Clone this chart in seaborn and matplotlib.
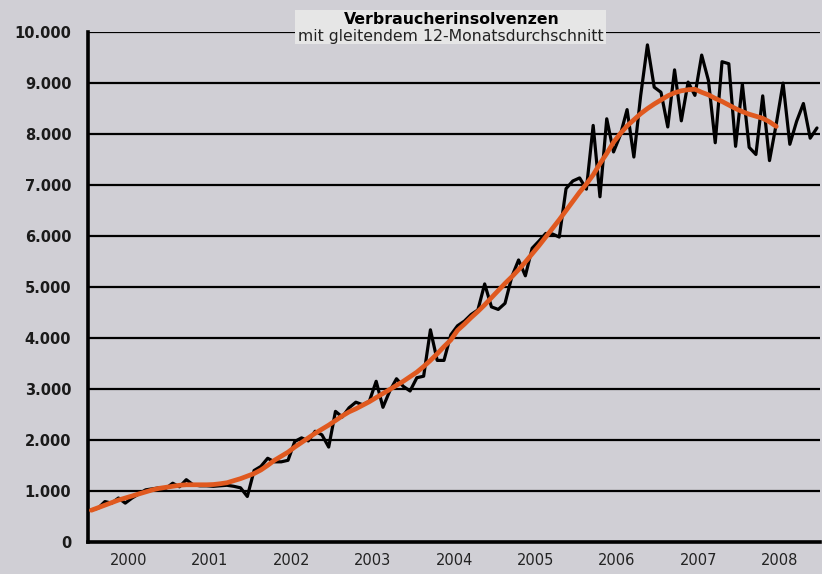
#Importing libraries
import numpy as np
import pandas as pd
import matplotlib
matplotlib.use("Agg")
import matplotlib.pyplot as plt
import matplotlib.patches as mpatches
import seaborn as sns

#Monthly consumer insolvencies, Jan 2000 - Dec 2008
years = ["2000", "2001", "2002", "2003", "2004", "2005", "2006", "2007", "2008"]
insolvencies = [
    627, 660, 790, 760, 860, 760, 860, 940, 1020, 1040, 1060, 1050,        # 2000
    1150, 1080, 1220, 1120, 1100, 1100, 1090, 1100, 1110, 1090, 1060, 890,  # 2001
    1400, 1480, 1640, 1570, 1570, 1600, 1970, 2040, 1980, 2170, 2100, 1860, # 2002
    2560, 2450, 2630, 2740, 2690, 2760, 3150, 2640, 2960, 3200, 3050, 2960, # 2003
    3220, 3250, 4160, 3560, 3560, 4060, 4240, 4330, 4460, 4550, 5060, 4610, # 2004
    4560, 4680, 5200, 5530, 5220, 5760, 5900, 6050, 6040, 5980, 6930, 7080, # 2005
    7140, 6920, 8170, 6770, 8300, 7650, 7980, 8480, 7550, 8750, 9750, 8920, # 2006
    8820, 8140, 9260, 8260, 9020, 8760, 9550, 9050, 7830, 9420, 9380, 7760, # 2007
    8980, 7740, 7600, 8750, 7480, 8200, 9000, 7800, 8250, 8600, 7920, 8120, # 2008
]

#Moving 12-month average (ends mid 2008)
moving_avg = [
    620, 670, 720, 770, 820, 860, 900, 940, 980, 1020, 1050, 1070,
    1090, 1110, 1120, 1120, 1120, 1120, 1125, 1140, 1160, 1200, 1240, 1290,
    1340, 1410, 1500, 1600, 1680, 1760, 1860, 1950, 2040, 2130, 2210, 2290,
    2380, 2470, 2550, 2610, 2680, 2750, 2830, 2910, 2990, 3070, 3150, 3240,
    3330, 3440, 3560, 3690, 3830, 3960, 4150, 4270, 4400, 4520, 4650, 4790,
    4930, 5070, 5200, 5340, 5490, 5650, 5810, 5980, 6150, 6320, 6500, 6680,
    6860, 7020, 7200, 7420, 7620, 7840, 8010, 8160, 8280, 8400, 8500, 8590,
    8670, 8750, 8810, 8850, 8870, 8880, 8820, 8770, 8700, 8640, 8570, 8500,
    8440, 8390, 8350, 8310, 8240, 8150,
]

months = np.arange(len(insolvencies))
DataFrame = pd.DataFrame({"month": months, "value": insolvencies})
AvgFrame = pd.DataFrame({"month": np.arange(len(moving_avg)), "value": moving_avg})

bg = "#d0cfd5"
sns.set_style("white")
plt.rcParams["font.family"] = ["DejaVu Sans"]

fig = plt.figure(figsize=(8.22, 5.74), dpi=100, facecolor=bg)
ax = fig.add_axes([0.107, 0.056, 0.891, 0.888])
ax.set_facecolor(bg)

#Lines
sns.lineplot(data=DataFrame, x="month", y="value", color="black", linewidth=2.3, ax=ax, zorder=3)
sns.lineplot(data=AvgFrame, x="month", y="value", color="#e0591f", linewidth=3.4, ax=ax, zorder=4)

#Axes styling
ax.set_xlim(-0.5, len(insolvencies) - 0.5)
ax.set_ylim(0, 10000)
ax.set_xlabel("")
ax.set_ylabel("")

yticks = np.arange(0, 10001, 1000)
ax.set_yticks(yticks)
ax.set_yticklabels([f"{int(v):,}".replace(",", ".") for v in yticks],
                   fontsize=10.5, fontweight="bold", color="#1a1a1a")
for v in yticks[1:]:
    ax.axhline(v, color="black", linewidth=1.6, zorder=1)

bounds = np.arange(-0.5, len(insolvencies), 12)
ax.set_xticks(bounds)
ax.set_xticklabels([])
ax.set_xticks(np.arange(5.5, len(insolvencies), 12), minor=True)
ax.set_xticklabels(years, minor=True, fontsize=10.5, color="#222222")
ax.tick_params(axis="x", which="major", direction="out", length=5, width=2.5, color="black")
ax.tick_params(axis="x", which="minor", length=0, pad=8)
ax.tick_params(axis="y", direction="out", length=5, width=2, color="black", pad=7)

for side in ["top", "right"]:
    ax.spines[side].set_visible(False)
ax.spines["left"].set_linewidth(2.6)
ax.spines["left"].set_color("black")
ax.spines["bottom"].set_linewidth(2.6)
ax.spines["bottom"].set_color("black")

#Title box
fig.patches.append(mpatches.Rectangle((0.359, 0.923), 0.378, 0.060, transform=fig.transFigure,
                                      facecolor="#e6e6e6", edgecolor="none", zorder=5))
fig.text(0.55, 0.966, "Verbraucherinsolvenzen", ha="center", va="center",
         fontsize=11.3, fontweight="bold", color="black", zorder=6)
fig.text(0.548, 0.937, "mit gleitendem 12-Monatsdurchschnitt", ha="center", va="center",
         fontsize=11.3, color="#222222", zorder=6)

fig.savefig("out.png", dpi=100, facecolor=bg)
